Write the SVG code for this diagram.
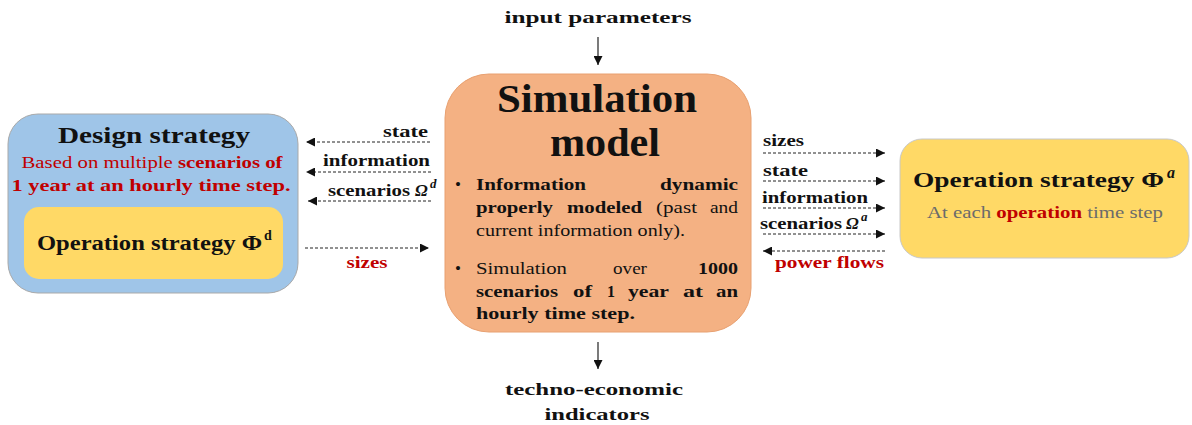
<svg xmlns="http://www.w3.org/2000/svg" width="1192" height="425" viewBox="0 0 1192 425">
  <style>
    text { font-family: "Liberation Serif", "DejaVu Serif", "Noto Serif", serif; fill: #111; }
    .b { font-weight: bold; }
    .red { fill: #c00000; }
    .gray { fill: #6b6b6b; }
    .lbl { font-size: 17px; font-weight: bold; }
    .body { font-size: 17px; }
    .dash { stroke: #222; stroke-width: 1; stroke-dasharray: 3 2; fill: none; }
    .solid { stroke: #222; stroke-width: 1.2; fill: none; }
  </style>
  <defs>
    <marker id="tip" viewBox="0 0 10 10" refX="10" refY="5" markerWidth="9" markerHeight="9" markerUnits="userSpaceOnUse" orient="auto">
      <path d="M0,0 L10,5 L0,10 z" fill="#111"/>
    </marker>
  </defs>

  <rect width="1192" height="425" fill="#ffffff"/>

  <!-- design strategy -->
  <g id="design">
    <rect x="8" y="114" width="290" height="179" rx="30" fill="#9fc5e8" stroke="#a9a9a9" stroke-width="1"/>
    <text x="154" y="143" text-anchor="middle" class="b" font-size="24" textLength="192" lengthAdjust="spacingAndGlyphs">Design strategy</text>
    <text x="152" y="168" text-anchor="middle" class="red" font-size="17" textLength="261" lengthAdjust="spacingAndGlyphs">Based on multiple <tspan class="b">scenarios of</tspan></text>
    <text x="151" y="191" text-anchor="middle" class="red b" font-size="17" textLength="279" lengthAdjust="spacingAndGlyphs">1 year at an hourly time step.</text>
    <g id="design-operation">
      <rect x="24" y="207" width="259" height="72" rx="15" fill="#ffd966"/>
      <text x="37" y="250" class="b" font-size="20" textLength="225" lengthAdjust="spacingAndGlyphs">Operation strategy Φ</text>
      <text x="264" y="240" class="b" font-size="14">d</text>
    </g>
  </g>

  <!-- simulation model -->
  <g id="simulation">
    <rect x="445" y="74" width="306" height="258" rx="44" fill="#f4b183" stroke="#e8a070" stroke-width="1"/>
    <text x="597" y="112" text-anchor="middle" class="b" font-size="40" textLength="200" lengthAdjust="spacingAndGlyphs">Simulation</text>
    <text x="605" y="156" text-anchor="middle" class="b" font-size="40" textLength="110" lengthAdjust="spacingAndGlyphs">model</text>

    <text x="455" y="190" class="body">•</text>
    <text x="476" y="190" class="body b" textLength="110" lengthAdjust="spacingAndGlyphs">Information</text>
    <text x="660" y="190" class="body b" textLength="78" lengthAdjust="spacingAndGlyphs">dynamic</text>
    <text x="476" y="213" class="body b" textLength="77" lengthAdjust="spacingAndGlyphs">properly</text>
    <text x="567" y="213" class="body b" textLength="75" lengthAdjust="spacingAndGlyphs">modeled</text>
    <text x="656" y="213" class="body" textLength="41" lengthAdjust="spacingAndGlyphs">(past</text>
    <text x="710" y="213" class="body" textLength="28" lengthAdjust="spacingAndGlyphs">and</text>
    <text x="476" y="236" class="body" textLength="209" lengthAdjust="spacingAndGlyphs">current information only).</text>

    <text x="455" y="274" class="body">•</text>
    <text x="476" y="274" class="body" textLength="91" lengthAdjust="spacingAndGlyphs">Simulation</text>
    <text x="613" y="274" class="body" textLength="34" lengthAdjust="spacingAndGlyphs">over</text>
    <text x="698" y="274" class="body b" textLength="40" lengthAdjust="spacingAndGlyphs">1000</text>
    <text x="476" y="297" class="body b" textLength="82" lengthAdjust="spacingAndGlyphs">scenarios</text>
    <text x="573" y="297" class="body b" textLength="19" lengthAdjust="spacingAndGlyphs">of</text>
    <text x="607" y="297" class="body b" textLength="8" lengthAdjust="spacingAndGlyphs">1</text>
    <text x="628" y="297" class="body b" textLength="41" lengthAdjust="spacingAndGlyphs">year</text>
    <text x="683" y="297" class="body b" textLength="20" lengthAdjust="spacingAndGlyphs">at</text>
    <text x="716" y="297" class="body b" textLength="22" lengthAdjust="spacingAndGlyphs">an</text>
    <text x="476" y="319" class="body b" textLength="159" lengthAdjust="spacingAndGlyphs">hourly time step.</text>
  </g>

  <!-- operation strategy (right) -->
  <g id="operation">
    <rect x="900" y="139" width="289" height="119" rx="22" fill="#ffd966" stroke="#c8c8c8" stroke-width="1"/>
    <text x="913" y="187" class="b" font-size="22" textLength="251" lengthAdjust="spacingAndGlyphs">Operation strategy Φ</text>
    <text x="1167" y="178" class="b" font-size="16" font-style="italic">a</text>
    <text x="1045" y="218" text-anchor="middle" class="gray" font-size="17" textLength="236" lengthAdjust="spacingAndGlyphs">At each <tspan class="red b">operation</tspan> time step</text>
  </g>

  <!-- input / output labels -->
  <g id="inputs">
    <text x="598" y="23" text-anchor="middle" class="lbl" textLength="187" lengthAdjust="spacingAndGlyphs">input parameters</text>
  </g>
  <g id="outputs">
    <text x="594" y="395" text-anchor="middle" class="lbl" textLength="178" lengthAdjust="spacingAndGlyphs">techno-economic</text>
    <text x="597" y="420" text-anchor="middle" class="lbl" textLength="105" lengthAdjust="spacingAndGlyphs">indicators</text>
  </g>

  <!-- connectors -->
  <g id="connectors">
    <line class="solid" x1="598" y1="37" x2="598" y2="65" marker-end="url(#tip)"/>
    <line class="solid" x1="598" y1="342" x2="598" y2="369" marker-end="url(#tip)"/>

    <!-- simulation to design -->
    <line class="dash" x1="430" y1="142" x2="306" y2="142" marker-end="url(#tip)"/>
    <text x="428" y="137" text-anchor="end" class="lbl" textLength="45" lengthAdjust="spacingAndGlyphs">state</text>
    <line class="dash" x1="431" y1="172" x2="306" y2="172" marker-end="url(#tip)"/>
    <text x="430" y="166" text-anchor="end" class="lbl" textLength="107" lengthAdjust="spacingAndGlyphs">information</text>
    <line class="dash" x1="431" y1="201" x2="308" y2="201" marker-end="url(#tip)"/>
    <text x="328" y="196" class="lbl" textLength="82" lengthAdjust="spacingAndGlyphs">scenarios</text>
    <text x="415" y="196" class="lbl" font-style="italic">Ω</text>
    <text x="430" y="188" font-size="13" font-style="italic" class="b">d</text>
    <!-- design to simulation -->
    <line class="dash" x1="305" y1="248" x2="429" y2="248" marker-end="url(#tip)"/>
    <text x="367" y="268" text-anchor="middle" class="lbl red" textLength="41" lengthAdjust="spacingAndGlyphs">sizes</text>

    <!-- simulation to operation -->
    <text x="763" y="146" class="lbl" textLength="41" lengthAdjust="spacingAndGlyphs">sizes</text>
    <line class="dash" x1="763" y1="153" x2="885" y2="153" marker-end="url(#tip)"/>
    <text x="763" y="176" class="lbl" textLength="45" lengthAdjust="spacingAndGlyphs">state</text>
    <line class="dash" x1="763" y1="181" x2="885" y2="181" marker-end="url(#tip)"/>
    <text x="762" y="203" class="lbl" textLength="106" lengthAdjust="spacingAndGlyphs">information</text>
    <line class="dash" x1="763" y1="208" x2="885" y2="208" marker-end="url(#tip)"/>
    <text x="760" y="229" class="lbl" textLength="82" lengthAdjust="spacingAndGlyphs">scenarios</text>
    <text x="846" y="229" class="lbl" font-style="italic">Ω</text>
    <text x="861" y="221" font-size="13" font-style="italic" class="b">a</text>
    <line class="dash" x1="763" y1="234" x2="885" y2="234" marker-end="url(#tip)"/>
    <!-- operation to simulation -->
    <line class="dash" x1="885" y1="251" x2="763" y2="251" marker-end="url(#tip)"/>
    <text x="884" y="268" text-anchor="end" class="lbl red" textLength="109" lengthAdjust="spacingAndGlyphs">power flows</text>
  </g>
</svg>
